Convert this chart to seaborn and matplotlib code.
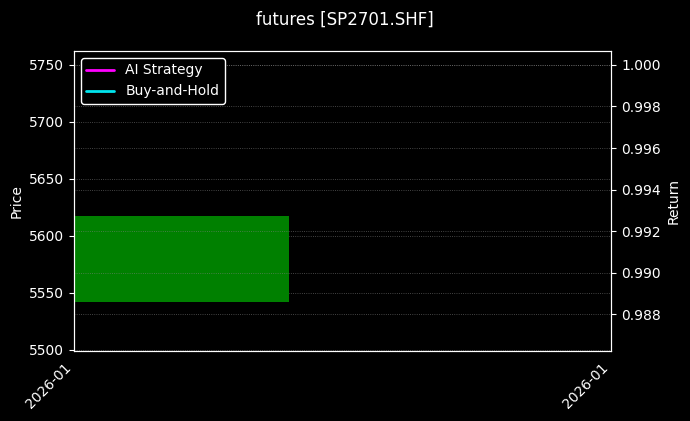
import matplotlib
matplotlib.use("Agg")
import matplotlib.pyplot as plt
import seaborn as sns
import pandas as pd

# Data
candle_open = [5542]
candle_close = [5617]
candle_pos = [0.0]
candle_width = [0.4]
x_ticks = [0.0, 1.0]
x_tick_labels = ["2026-01", "2026-01"]
strategy_names = ["AI Strategy", "Buy-and-Hold"]
strategy_returns = [[1.0], [1.0]]
strategy_colors = ["#ff00ff", "#00e5ee"]

sns.set_theme(style="dark")
plt.style.use("dark_background")
plt.rcParams.update({
    "font.family": ["DejaVu Sans"],
    "font.size": 10,
    "axes.labelsize": 10,
    "xtick.labelsize": 10,
    "ytick.labelsize": 10,
    "legend.fontsize": 10,
    "axes.linewidth": 0.8,
    "xtick.major.width": 0.8,
    "ytick.major.width": 0.8,
    "xtick.major.size": 3.5,
    "ytick.major.size": 3.5,
})

fig, ax = plt.subplots(figsize=(6.9, 4.21), dpi=100)
fig.patch.set_facecolor("black")
ax.set_facecolor("black")

heights = [c - o for o, c in zip(candle_open, candle_close)]
ax.bar(candle_pos, heights, bottom=candle_open, width=candle_width,
       align="edge", color="green", edgecolor="none")
ax.set_ylim(5499, 5762)
ax.set_xlim(0, 1)
ax.set_ylabel("Price")
ax.set_xticks(x_ticks)
ax.set_xticklabels(x_tick_labels, rotation=45, ha="right")
ax.grid(True, axis="y", linestyle=":", color="gray", linewidth=0.6, alpha=0.7)
ax.grid(False, axis="x")

ax2 = ax.twinx()
for name, vals, col in zip(strategy_names, strategy_returns, strategy_colors):
    df = pd.DataFrame({"x": x_ticks[:len(vals)], "y": vals})
    sns.lineplot(data=df, x="x", y="y", ax=ax2, color=col, linewidth=2, label=name)
ax2.set_ylim(0.98622, 1.000675)
ax2.set_ylabel("Return")
rt = [0.988, 0.990, 0.992, 0.994, 0.996, 0.998, 1.000]
ax2.set_yticks(rt)
ax2.set_yticklabels([f"{v:.3f}" for v in rt])
ax2.grid(True, axis="y", linestyle=":", color="gray", linewidth=0.6, alpha=0.7)
ax2.set_xlabel("")
ax.set_xlabel("")
ax2.set_xlim(0, 1)
leg = ax2.legend(loc="upper left", facecolor="black", edgecolor="white", framealpha=1)

for spine in list(ax.spines.values()) + list(ax2.spines.values()):
    spine.set_color("white")

fig.suptitle("futures [SP2701.SHF]", fontsize=12, y=0.975)
fig.subplots_adjust(left=0.107, right=0.886, top=0.879, bottom=0.166)
fig.savefig("out.png", dpi=100, facecolor="black")
